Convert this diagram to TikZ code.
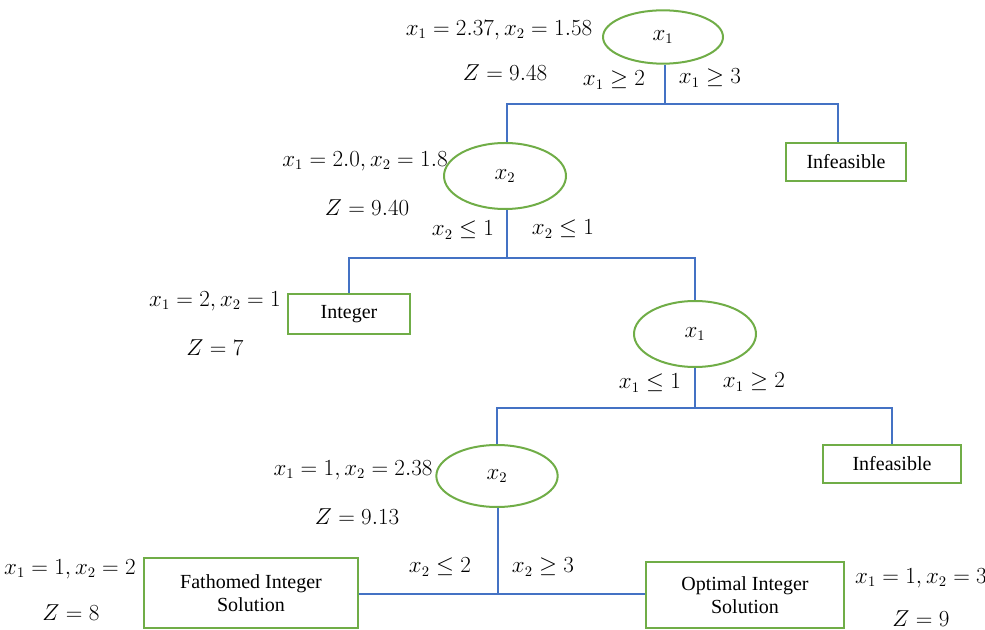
\documentclass[tikz,border=0pt]{standalone}
\usepackage{fontspec}
\setmainfont{Liberation Serif}
\usetikzlibrary{shapes.geometric}
\definecolor{boxgreen}{HTML}{70AD47}
\definecolor{lineblue}{HTML}{4472C4}
\tikzset{
  oval/.style={ellipse, draw=boxgreen, line width=1.5pt, inner sep=0pt, font=\fontsize{16}{18}\selectfont},
  rbox/.style={rectangle, draw=boxgreen, line width=1.5pt, inner sep=0pt, align=center, font=\fontsize{15}{17}\selectfont},
  lbl/.style={inner sep=0pt, font=\fontsize{16}{18}\selectfont},
  conn/.style={draw=lineblue, line width=0.8pt}
}
\begin{document}
\begin{tikzpicture}[x=0.75pt, y=-0.75pt]
\path[use as bounding box] (0,0) rectangle (985,630);
% nodes
\node[oval, minimum width=90pt, minimum height=40pt] (e1) at (663,37) {$x_1$};
\node[oval, minimum width=91.5pt, minimum height=49.5pt] (e2) at (505,176) {$x_2$};
\node[oval, minimum width=91.5pt, minimum height=49.5pt] (e3) at (695,334) {$x_1$};
\node[oval, minimum width=91pt, minimum height=46.5pt] (e4) at (497,476) {$x_2$};
\node[rbox, minimum width=90pt, minimum height=28pt] (inf1) at (846,162) {Infeasible};
\node[rbox, minimum width=91pt, minimum height=30pt] (int) at (349,314) {Integer};
\node[rbox, minimum width=103.5pt, minimum height=28.5pt] (inf2) at (892,464) {Infeasible};
\node[rbox, minimum width=161pt, minimum height=52.5pt] (fath) at (251,593) {Fathomed Integer\\Solution};
\node[rbox, minimum width=148pt, minimum height=50pt] (opt) at (745,595) {Optimal Integer\\Solution};
% labels
\node[lbl] (s1) at (499,30) {$x_1 = 2.37, x_2 = 1.58$};
\node[lbl] (z1) at (505,73) {$Z = 9.48$};
\node[lbl] (b1l) at (614,80) {$x_1 \geq 2$};
\node[lbl] (b1r) at (710,78) {$x_1 \geq 3$};
\node[lbl] (s2) at (365,161) {$x_1 = 2.0, x_2 = 1.8$};
\node[lbl] (z2) at (367,208) {$Z = 9.40$};
\node[lbl] (b2l) at (463,230) {$x_2 \leq 1$};
\node[lbl] (b2r) at (563,229) {$x_2 \leq 1$};
\node[lbl] (s3) at (215,301) {$x_1 = 2, x_2 = 1$};
\node[lbl] (z3) at (215,348) {$Z = 7$};
\node[lbl] (b3l) at (650,383) {$x_1 \leq 1$};
\node[lbl] (b3r) at (754,382) {$x_1 \geq 2$};
\node[lbl] (s4) at (353,470) {$x_1 = 1, x_2 = 2.38$};
\node[lbl] (z4) at (357,517) {$Z = 9.13$};
\node[lbl] (b4l) at (440,567) {$x_2 \leq 2$};
\node[lbl] (b4r) at (543,567) {$x_2 \geq 3$};
\node[lbl] (s5) at (70,569) {$x_1 = 1, x_2 = 2$};
\node[lbl] (z5) at (71,613) {$Z = 8$};
\node[lbl] (s6) at (921,578) {$x_1 = 1, x_2 = 3$};
\node[lbl] (z6) at (921,619) {$Z = 9$};
% junctions
\coordinate (j1) at (665,104);
\coordinate (j2) at (507,258);
\coordinate (j3) at (695,408);
\coordinate (j4) at (498,594);
% connectors
\draw[conn] (e1.south -| j1) -- (j1);
\draw[conn] (e2.north -| j2) |- (j1) -| ([xshift=-6pt]inf1.north);
\draw[conn] (e2.south -| j2) -- (j2);
\draw[conn] (int.north) |- (j2) -| (e3.north);
\draw[conn] (e3.south) -- (j3);
\draw[conn] (e4.north) |- (j3) -| (inf2.north);
\draw[conn] (e4.south -| j4) -- (j4);
\draw[conn] (fath.east |- j4) -- (opt.west |- j4);
\end{tikzpicture}
\end{document}
